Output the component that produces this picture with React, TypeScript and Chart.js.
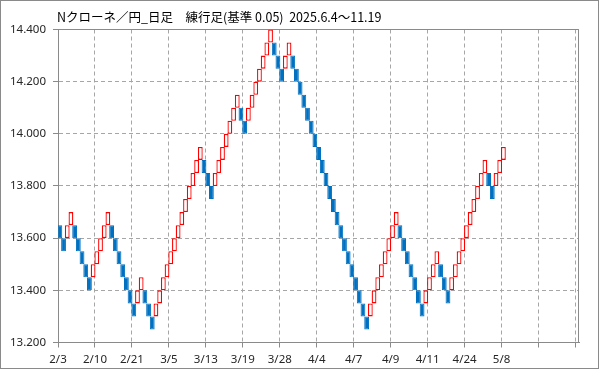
import React, { useEffect, useRef } from "react";
import { Chart, registerables } from "chart.js";

Chart.register(...registerables);

const TITLE = "Nクローネ／円_日足　練行足(基準 0.05)  2025.6.4〜11.19";
const BRICK_SIZE = 0.05;

// date label of every 10th brick (last two slots are empty)
const xTickLabels = ["2/3", "2/10", "2/21", "3/5", "3/13", "3/19", "3/28", "4/4", "4/7", "4/9", "4/11", "4/24", "5/8", "", ""];

// bottom price of each brick, in order
const brickBottoms = [
  13.60, 13.55, 13.60, 13.65, 13.60, 13.55, 13.50, 13.45, 13.40, 13.45,
  13.50, 13.55, 13.60, 13.65, 13.60, 13.55, 13.50, 13.45, 13.40, 13.35,
  13.30, 13.35, 13.40, 13.35, 13.30, 13.25, 13.30, 13.35, 13.40, 13.45,
  13.50, 13.55, 13.60, 13.65, 13.70, 13.75, 13.80, 13.85, 13.90, 13.85,
  13.80, 13.75, 13.80, 13.85, 13.90, 13.95, 14.00, 14.05, 14.10, 14.05,
  14.00, 14.05, 14.10, 14.15, 14.20, 14.25, 14.30, 14.35, 14.30, 14.25,
  14.20, 14.25, 14.30, 14.25, 14.20, 14.15, 14.10, 14.05, 14.00, 13.95,
  13.90, 13.85, 13.80, 13.75, 13.70, 13.65, 13.60, 13.55, 13.50, 13.45,
  13.40, 13.35, 13.30, 13.25, 13.30, 13.35, 13.40, 13.45, 13.50, 13.55,
  13.60, 13.65, 13.60, 13.55, 13.50, 13.45, 13.40, 13.35, 13.30, 13.35,
  13.40, 13.45, 13.50, 13.45, 13.40, 13.35, 13.40, 13.45, 13.50, 13.55,
  13.60, 13.65, 13.70, 13.75, 13.80, 13.85, 13.80, 13.75, 13.80, 13.85,
  13.90,
];

// 1 = rising (red outline), 0 = falling (blue filled)
const brickUp = [
  0, 0, 1, 1, 0, 0, 0, 0, 0, 1,
  1, 1, 1, 1, 0, 0, 0, 0, 0, 0,
  0, 1, 1, 0, 0, 0, 1, 1, 1, 1,
  1, 1, 1, 1, 1, 1, 1, 1, 1, 0,
  0, 0, 1, 1, 1, 1, 1, 1, 1, 0,
  0, 1, 1, 1, 1, 1, 1, 1, 0, 0,
  0, 1, 1, 0, 0, 0, 0, 0, 0, 0,
  0, 0, 0, 0, 0, 0, 0, 0, 0, 0,
  0, 0, 0, 0, 1, 1, 1, 1, 1, 1,
  1, 1, 0, 0, 0, 0, 0, 0, 0, 1,
  1, 1, 1, 0, 0, 0, 1, 1, 1, 1,
  1, 1, 1, 1, 1, 1, 0, 0, 1, 1,
  1,
];

const Y_MIN = 13.2;
const Y_MAX = 14.4;
const Y_STEP = 0.2;
const X_SLOTS = 140;

const UP_BORDER = "#FF0000";
const UP_FILL = "#FFFFFF";
const DOWN_COLOR = "#0070C0";
const AXIS_COLOR = "#8a8a8a";
const GRID_COLOR = "#a6a6a6";
const TEXT_COLOR = "#262626";

export default function App() {
  const canvasRef = useRef<HTMLCanvasElement | null>(null);

  useEffect(() => {
    const canvas = canvasRef.current;
    if (!canvas) return;

    const data = brickBottoms.map((b, i) => ({
      x: i + 0.5,
      y: [b, Math.round((b + BRICK_SIZE) * 100) / 100],
    }));

    const framePlugin = {
      id: "frame",
      beforeDraw(chart: any) {
        const { ctx, width, height } = chart;
        ctx.save();
        ctx.fillStyle = "#ffffff";
        ctx.fillRect(0, 0, width, height);
        ctx.strokeStyle = AXIS_COLOR;
        ctx.lineWidth = 1;
        ctx.strokeRect(0.5, 0.5, width - 1, height - 1);
        ctx.restore();
      },
      beforeDatasetsDraw(chart: any) {
        const { ctx, chartArea } = chart;
        const top = Math.round(chartArea.top - 0.5) + 0.5;
        const right = Math.round(chartArea.right - 0.5) - 0.5;
        const bottom = Math.round(chartArea.bottom - 0.5) + 0.5;
        const left = Math.round(chartArea.left - 0.5) + 0.5;
        ctx.save();
        ctx.strokeStyle = AXIS_COLOR;
        ctx.lineWidth = 1;
        ctx.beginPath();
        ctx.moveTo(left, top);
        ctx.lineTo(right, top);
        ctx.lineTo(right, bottom);
        ctx.stroke();
        ctx.restore();
      },
      afterDraw(chart: any) {
        const { ctx, chartArea } = chart;
        ctx.save();
        ctx.font = '12.5px "Noto Sans CJK JP"';
        ctx.fillStyle = "#000000";
        ctx.textBaseline = "alphabetic";
        ctx.textAlign = "left";
        ctx.fillText(TITLE, chartArea.left - 1, 22);
        ctx.restore();
      },
    };

    const tickFont = { family: "'Noto Sans', sans-serif", size: 11.5 };

    const chart = new Chart(canvas, {
      type: "bar",
      data: {
        datasets: [
          {
            label: "bricks",
            data: data as any,
            backgroundColor: (c: any) => (brickUp[c.dataIndex] ? UP_FILL : DOWN_COLOR),
            borderColor: (c: any) => (brickUp[c.dataIndex] ? UP_BORDER : DOWN_COLOR),
            borderWidth: (c: any) => (brickUp[c.dataIndex] ? 1.3 : 1),
            borderSkipped: false,
            barThickness: 4.8,
            inflateAmount: 0,
            grouped: false,
          } as any,
        ],
      },
      options: {
        responsive: false,
        animation: false,
        devicePixelRatio: 1,
        layout: { padding: { top: 29.5, right: 20, bottom: 0, left: 0 } },
        plugins: {
          legend: { display: false },
          tooltip: { enabled: false },
          title: { display: false },
        },
        scales: {
          x: {
            type: "linear",
            offset: false,
            min: 0,
            max: 140.95,
            afterBuildTicks: (s: any) => {
              const t = [];
              for (let v = 0; v <= X_SLOTS; v += 10) t.push({ value: v });
              s.ticks = t;
            },
            afterFit: (s: any) => {
              s.height = 26.5;
            },
            ticks: {
              autoSkip: false,
              maxRotation: 0,
              padding: 5,
              color: TEXT_COLOR,
              font: tickFont,
              callback: (v: any) => xTickLabels[Math.round(Number(v) / 10)] ?? "",
            },
            grid: {
              offset: false,
              color: GRID_COLOR,
              tickColor: AXIS_COLOR,
              tickLength: 5,
              tickBorderDash: [],
            },
            border: { display: true, color: AXIS_COLOR, width: 1, dash: [4, 3] },
          },
          y: {
            type: "linear",
            min: Y_MIN,
            max: Y_MAX,
            afterFit: (s: any) => {
              s.width = 58;
            },
            ticks: {
              stepSize: Y_STEP,
              padding: 7,
              color: TEXT_COLOR,
              font: tickFont,
              callback: (v: any) => Number(v).toFixed(3),
            },
            grid: {
              color: GRID_COLOR,
              tickColor: AXIS_COLOR,
              tickLength: 5,
              tickBorderDash: [],
            },
            border: { display: true, color: AXIS_COLOR, width: 1, dash: [4, 3] },
          },
        },
      },
      plugins: [framePlugin],
    });

    return () => chart.destroy();
  }, []);

  return (
    <div style={{ position: "absolute", left: 0, top: 0, width: 599, height: 369 }}>
      <canvas ref={canvasRef} width={599} height={369} style={{ width: 599, height: 369, display: "block" }} />
    </div>
  );
}
